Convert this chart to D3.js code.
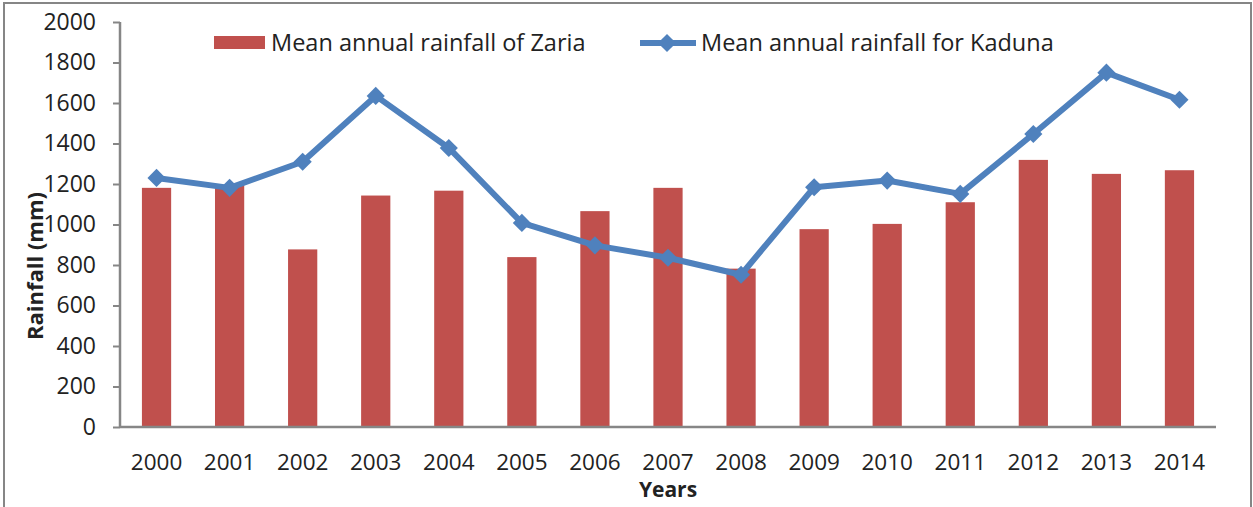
<!DOCTYPE html>
<html>
<head>
<meta charset="utf-8">
<script src="https://cdn.jsdelivr.net/npm/d3@7"></script>
<style>
  body { margin: 0; background: #fff; }
  svg { display: block; font-family: "Open Sans", sans-serif; }
</style>
</head>
<body>
<div id="chart"></div>
<script>
////////////////////////////////////////////////////////////
//////////////////////// Data //////////////////////////////
////////////////////////////////////////////////////////////

var years = ["2000", "2001", "2002", "2003", "2004", "2005", "2006", "2007",
             "2008", "2009", "2010", "2011", "2012", "2013", "2014"];

// Mean annual rainfall of Zaria (bars)
var zaria = [1181, 1195, 877, 1143, 1167, 839, 1066, 1181, 782, 977, 1003, 1110, 1319, 1250, 1268];

// Mean annual rainfall for Kaduna (line)
var kaduna = [1230, 1181, 1310, 1635, 1378, 1008, 897, 836, 752, 1184, 1217, 1151, 1447, 1750, 1616];

var yTicks = [0, 200, 400, 600, 800, 1000, 1200, 1400, 1600, 1800, 2000];

var seriesNames = ["Mean annual rainfall of Zaria", "Mean annual rainfall for Kaduna"];

////////////////////////////////////////////////////////////
//////////////////////// Set-up ////////////////////////////
////////////////////////////////////////////////////////////

var W = 1253, H = 507;
var margin = { left: 120, top: 22, right: 37, bottom: 80 },
    width = W - margin.left - margin.right,
    height = H - margin.top - margin.bottom;

var barColor = "#C0504D",
    lineColor = "#4F81BD",
    axisColor = "#868686";

var svg = d3.select("#chart").append("svg")
    .attr("width", W)
    .attr("height", H);

// outer chart frame
svg.append("rect")
    .attr("x", 4).attr("y", 3)
    .attr("width", W - 6).attr("height", H + 10)
    .style("fill", "none")
    .style("stroke", axisColor)
    .style("stroke-width", 2);

var g = svg.append("g")
    .attr("transform", "translate(" + margin.left + "," + margin.top + ")");

////////////////////////////////////////////////////////////
//////////////////////// Scales ////////////////////////////
////////////////////////////////////////////////////////////

var x = d3.scaleBand()
    .domain(years)
    .range([0, width])
    .paddingInner(0.6)
    .paddingOuter(0.3);

var y = d3.scaleLinear()
    .domain([0, 2000])
    .range([height, 0]);

var xCenter = function (yr) { return x(yr) + x.bandwidth() / 2; };

////////////////////////////////////////////////////////////
//////////////////////// Bars //////////////////////////////
////////////////////////////////////////////////////////////

g.selectAll(".bar")
    .data(zaria)
    .enter().append("rect")
    .attr("class", "bar")
    .attr("x", function (d, i) { return x(years[i]); })
    .attr("y", function (d) { return y(d); })
    .attr("width", x.bandwidth())
    .attr("height", function (d) { return height - y(d); })
    .style("fill", barColor);

////////////////////////////////////////////////////////////
//////////////////////// Axes //////////////////////////////
////////////////////////////////////////////////////////////

var yAxis = g.append("g")
    .call(d3.axisLeft(y).tickValues(yTicks).tickFormat(d3.format("d")).tickSize(7).tickPadding(17));

var xAxis = g.append("g")
    .attr("transform", "translate(0," + height + ")")
    .call(d3.axisBottom(x).tickSize(0).tickPadding(27));

[yAxis, xAxis].forEach(function (ax) {
    ax.select(".domain").style("stroke", axisColor).style("stroke-width", 2.5);
    ax.selectAll(".tick line").style("stroke", axisColor).style("stroke-width", 2);
    ax.selectAll("text")
        .style("font-family", "'Open Sans', sans-serif")
        .style("font-size", "22.5px")
        .style("fill", "#222");
});
yAxis.selectAll("text").style("font-size", "23px");
// Excel style: axis lines without end ticks
xAxis.select(".domain").attr("d", "M0,0H" + width);
yAxis.select(".domain").attr("d", "M0,0V" + height);

////////////////////////////////////////////////////////////
//////////////////////// Line //////////////////////////////
////////////////////////////////////////////////////////////

var line = d3.line()
    .x(function (d, i) { return xCenter(years[i]); })
    .y(function (d) { return y(d); });

g.append("path")
    .datum(kaduna)
    .attr("d", line)
    .style("fill", "none")
    .style("stroke", lineColor)
    .style("stroke-width", 6)
    .style("stroke-linejoin", "round");

var diamond = d3.symbol().type(d3.symbolDiamond2).size(210);

g.selectAll(".marker")
    .data(kaduna)
    .enter().append("path")
    .attr("class", "marker")
    .attr("transform", function (d, i) { return "translate(" + xCenter(years[i]) + "," + y(d) + ")"; })
    .attr("d", diamond)
    .style("fill", lineColor);

////////////////////////////////////////////////////////////
//////////////////////// Titles ////////////////////////////
////////////////////////////////////////////////////////////

svg.append("text")
    .attr("x", 668)
    .attr("y", 497)
    .attr("text-anchor", "middle")
    .style("font-size", "21px")
    .style("font-weight", "bold")
    .style("fill", "#222")
    .text("Years");

svg.append("text")
    .attr("transform", "translate(43," + 266 + ") rotate(-90)")
    .attr("text-anchor", "middle")
    .style("font-size", "22px")
    .style("font-weight", "bold")
    .style("fill", "#222")
    .text("Rainfall (mm)");

////////////////////////////////////////////////////////////
//////////////////////// Legend ////////////////////////////
////////////////////////////////////////////////////////////

var legend = svg.append("g").attr("class", "legend");

legend.append("rect")
    .attr("x", 214).attr("y", 36)
    .attr("width", 51).attr("height", 13)
    .style("fill", barColor);

legend.append("text")
    .attr("x", 271).attr("y", 51)
    .style("font-size", "23.5px")
    .style("fill", "#222")
    .text(seriesNames[0]);

legend.append("line")
    .attr("x1", 640).attr("x2", 696)
    .attr("y1", 43).attr("y2", 43)
    .style("stroke", lineColor)
    .style("stroke-width", 6);

legend.append("path")
    .attr("transform", "translate(667,43)")
    .attr("d", diamond)
    .style("fill", lineColor);

legend.append("text")
    .attr("x", 701).attr("y", 51)
    .style("font-size", "23.5px")
    .style("fill", "#222")
    .text(seriesNames[1]);
</script>
</body>
</html>
